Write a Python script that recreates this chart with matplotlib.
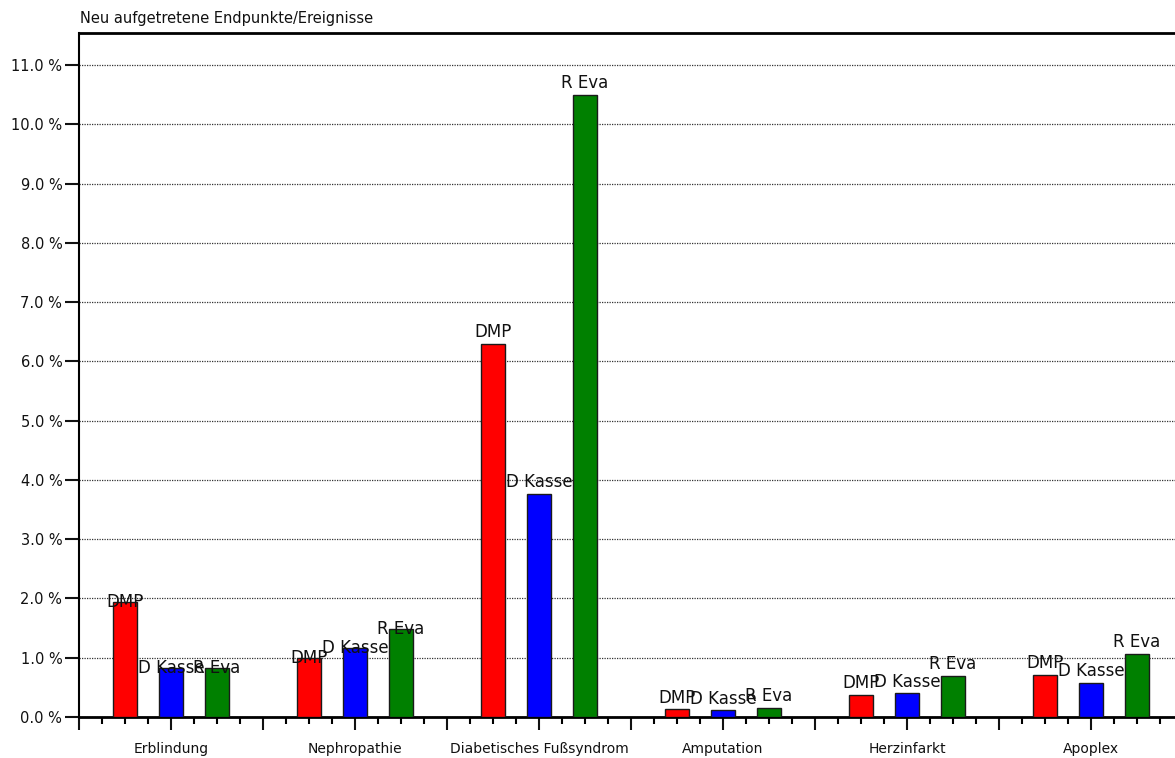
import numpy as np
import matplotlib
matplotlib.use("Agg")
import matplotlib.pyplot as plt
from matplotlib.ticker import FixedLocator, MultipleLocator, FuncFormatter

# Neu aufgetretene Endpunkte / Ereignisse je Gruppe (in Prozent)
kategorien = ["Erblindung", "Nephropathie", "Diabetisches Fußsyndrom",
              "Amputation", "Herzinfarkt", "Apoplex"]
serien = ["DMP", "D Kasse", "R Eva"]
dmp = [1.94, 1.00, 6.30, 0.13, 0.37, 0.71]
d_kasse = [0.82, 1.16, 3.76, 0.11, 0.40, 0.58]
r_eva = [0.82, 1.48, 10.49, 0.16, 0.69, 1.07]
farben = ["#ff0000", "#0000ff", "#008000"]

plt.rcParams['font.family'] = ['DejaVu Sans']

fig = plt.figure(figsize=(11.75, 7.58), dpi=100)
ax = fig.add_axes([79 / 1175, 41 / 758, 1096 / 1175, 684 / 758])

x = np.arange(len(kategorien))
breite = 0.13
versatz = [-0.25, 0.0, 0.25]

for werte, name, farbe, dx in zip([dmp, d_kasse, r_eva], serien, farben, versatz):
    balken = ax.bar(x + dx, werte, width=breite, color=farbe,
                    edgecolor="#1a1a1a", linewidth=1.0, zorder=3)
    for i, b in enumerate(balken):
        h = b.get_height()
        # bei den ersten beiden Gruppen sitzt die Beschriftung mittig auf der Oberkante
        if i < 2:
            ax.text(b.get_x() + b.get_width() / 2, h, name, ha="center",
                    va="center", fontsize=12, zorder=4, color="#111111")
        else:
            ax.annotate(name, (b.get_x() + b.get_width() / 2, h),
                        xytext=(0, 2), textcoords="offset points",
                        ha="center", va="bottom", fontsize=12, zorder=4,
                        color="#111111")

ax.set_xlim(-0.5, -0.5 + 1096 / 184)
ax.set_ylim(0, 684 / 59.27)

# y-Achse mit Prozentangaben
ax.yaxis.set_major_locator(FixedLocator(np.arange(0, 12)))
ax.yaxis.set_major_formatter(FuncFormatter(lambda v, p: "%.1f %%" % v))
ax.tick_params(axis="y", length=10, width=1.5, labelsize=10.5, pad=2,
               colors="#111111")

# x-Achse: Hauptstriche alle halbe Gruppe, Nebenstriche dazwischen
ax.xaxis.set_major_locator(MultipleLocator(0.5))
ax.xaxis.set_minor_locator(MultipleLocator(0.125))
ax.xaxis.set_major_formatter(FuncFormatter(
    lambda v, p: kategorien[int(round(v))] if abs(v - round(v)) < 1e-6
    and 0 <= round(v) < len(kategorien) else ""))
ax.tick_params(axis="x", which="major", length=9, width=1.5, labelsize=10,
               pad=9, colors="#111111")
ax.tick_params(axis="x", which="minor", length=5, width=1.5)

ax.grid(axis="y", color="#333333", linestyle=(0, (1, 1)), linewidth=0.9)
ax.set_axisbelow(True)

ax.spines["right"].set_visible(False)
ax.spines["left"].set_linewidth(1.5)
ax.spines["top"].set_linewidth(2)
ax.spines["bottom"].set_linewidth(2)

fig.text(80 / 1175, 1 - 18 / 758, "Neu aufgetretene Endpunkte/Ereignisse",
         fontsize=10.5, va="center", ha="left", color="#111111")

fig.savefig("out.png", dpi=100)
